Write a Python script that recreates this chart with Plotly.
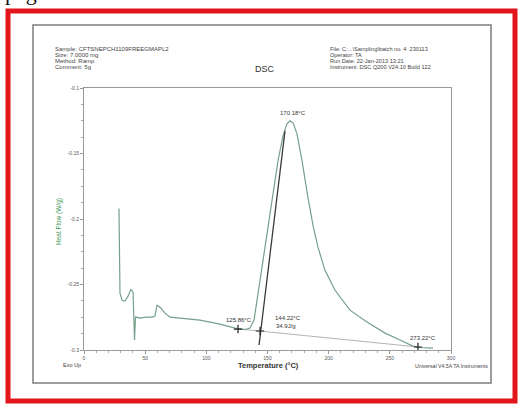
import plotly.graph_objects as go

# ---------------- data ----------------
temperature = [28.6, 29.0, 29.4, 31.1, 33.5, 36.0, 38.4, 40.1, 41.3, 42.1, 45.8, 50.7,
               55.6, 58.0, 59.7, 62.1, 66.2, 70.3, 78.5, 94.8, 111.2, 123.4, 131.6,
               135.7, 139.0, 141.4, 145.5, 149.6, 153.7, 158.6, 162.7, 165.9, 168.4,
               170.9, 174.1, 178.2, 183.1, 187.2, 191.3, 197.0, 205.2, 217.4, 231.3,
               246.1, 258.3, 268.9, 274.7, 285.3]
heat_flow = [-0.192, -0.2316, -0.2567, -0.262, -0.2627, -0.2589, -0.2536, -0.2559,
             -0.2924, -0.2749, -0.2757, -0.2749, -0.2749, -0.2741, -0.2658, -0.2673,
             -0.2719, -0.2749, -0.2757, -0.2772, -0.2802, -0.2833, -0.2844, -0.2833,
             -0.2772, -0.262, -0.2392, -0.2125, -0.1859, -0.1555, -0.1365, -0.1274,
             -0.1251, -0.1266, -0.135, -0.1555, -0.1837, -0.2049, -0.2217, -0.2392,
             -0.2544, -0.2696, -0.2787, -0.2871, -0.2924, -0.297, -0.2981, -0.2985]

tangent_t = [143.1, 164.3]
tangent_v = [-0.2962, -0.1327]

baseline_t = [131.6, 273.0]
baseline_v = [-0.2844, -0.2977]

marker_t = [125.9, 143.9, 273.0]
marker_v = [-0.2840, -0.2855, -0.2977]

peak_t = 168.4
peak_v = -0.1251

x_ticks = [0, 50, 100, 150, 200, 250, 300]
y_ticks = [-0.3, -0.25, -0.2, -0.15, -0.1]
y_tick_labels = ["-0.3", "-0.25", "-0.2", "-0.15", "-0.1"]

header_left = ["Sample: CFTSNEPCH1109FREEGMAPL2", "Size: 7.0000 mg",
               "Method: Ramp", "Comment: 5g"]
header_right = ["File: C:...\\Sampling\\batch no. 4  230113", "Operator: TA",
                "Run Date: 22-Jan-2013 13:21", "Instrument: DSC Q200 V24.10 Build 122"]

# ---------------- layout helpers ----------------
W, H = 519, 406
L, R, T, B = 84, 68, 88, 56
PW, PH = W - L - R, H - T - B


def px(x):
    return (x - L) / PW


def py(y):
    return (H - B - y) / PH


FONT = "Liberation Sans"
fig = go.Figure()

fig.add_trace(go.Scatter(x=temperature, y=heat_flow, mode="lines",
                         line=dict(color="#76a08c", width=1.2), hoverinfo="skip"))
fig.add_trace(go.Scatter(x=tangent_t, y=tangent_v, mode="lines",
                         line=dict(color="#3a3a3a", width=1.3), hoverinfo="skip"))
fig.add_trace(go.Scatter(x=baseline_t, y=baseline_v, mode="lines",
                         line=dict(color="#a0a0a0", width=0.8), hoverinfo="skip"))
fig.add_trace(go.Scatter(x=marker_t, y=marker_v, mode="markers",
                         marker=dict(symbol="cross-thin", size=6,
                                     line=dict(color="#222", width=1.2)),
                         hoverinfo="skip"))

ann = []
# data labels
ann.append(dict(x=peak_t, y=peak_v, xref="x", yref="y", text="170.18°C",
                showarrow=False, xshift=3, yshift=8, font=dict(size=6, color="#333")))
ann.append(dict(x=marker_t[0], y=marker_v[0], xref="x", yref="y", text="125.86°C",
                showarrow=False, xshift=1, yshift=9, font=dict(size=6, color="#333")))
ann.append(dict(x=marker_t[1], y=marker_v[1], xref="x", yref="y", text="144.22°C",
                showarrow=False, xshift=28, yshift=13, font=dict(size=6, color="#333")))
ann.append(dict(x=marker_t[1], y=marker_v[1], xref="x", yref="y", text="34.9J/g",
                showarrow=False, xshift=26, yshift=5, font=dict(size=6, color="#333")))
ann.append(dict(x=marker_t[2], y=marker_v[2], xref="x", yref="y", text="273.22°C",
                showarrow=False, xshift=5, yshift=9, font=dict(size=6, color="#333")))

# header text
for i, s in enumerate(header_left):
    ann.append(dict(x=px(53), y=py(49 + 6 * i), xref="paper", yref="paper", text=s,
                    xanchor="left", yanchor="middle", showarrow=False,
                    font=dict(size=6, color="#444", family=FONT)))
for i, s in enumerate(header_right):
    ann.append(dict(x=px(328), y=py(49 + 6 * i), xref="paper", yref="paper", text=s,
                    xanchor="left", yanchor="middle", showarrow=False,
                    font=dict(size=5.6, color="#444", family=FONT)))
ann.append(dict(x=px(265), y=py(62), xref="paper", yref="paper", text="DSC",
                showarrow=False, font=dict(size=9, color="#333", family=FONT)))

# bottom texts
ann.append(dict(x=px(61), y=py(370), xref="paper", yref="paper", text="Exo Up",
                showarrow=False, font=dict(size=5.5, color="#444", family=FONT)))
ann.append(dict(x=px(268), y=py(372), xref="paper", yref="paper",
                text="<b>Temperature (°C)</b>", showarrow=False,
                font=dict(size=7.5, color="#333", family=FONT)))
ann.append(dict(x=px(490), y=py(371), xref="paper", yref="paper",
                text="Universal V4.5A TA Instruments", xanchor="right", showarrow=False,
                font=dict(size=5.2, color="#444", family=FONT)))
ann.append(dict(x=px(53), y=py(222), xref="paper", yref="paper", text="Heat Flow (W/g)",
                textangle=-90, showarrow=False,
                font=dict(size=6.5, color="#3f9a5a", family=FONT)))

# cut-off page word at the very top
ann.append(dict(x=px(3), y=py(7), xref="paper", yref="paper", text="page",
                xanchor="left", yanchor="bottom", showarrow=False,
                font=dict(size=22, color="#111", family="Liberation Serif")))

shapes = [
    dict(type="rect", xref="paper", yref="paper", x0=px(8), x1=px(515), y0=py(11),
         y1=py(401), line=dict(color="#e3161b", width=5), layer="below"),
    dict(type="rect", xref="paper", yref="paper", x0=px(33), x1=px(491), y0=py(25),
         y1=py(383), line=dict(color="#7d7d7d", width=1.5), layer="below"),
]

fig.update_layout(
    width=W, height=H, margin=dict(l=L, r=R, t=T, b=B),
    paper_bgcolor="white", plot_bgcolor="white", showlegend=False,
    annotations=ann, shapes=shapes, font=dict(family=FONT),
)
fig.update_xaxes(range=[0, 300], tickvals=x_ticks, showgrid=False, zeroline=False,
                 showline=True, linecolor="#9a9a9a", linewidth=1, mirror=True,
                 ticks="outside", ticklen=3, tickcolor="#9a9a9a",
                 minor=dict(dtick=10, ticks="outside", ticklen=2, tickcolor="#aaa"),
                 tickfont=dict(size=5, color="#555"))
fig.update_yaxes(range=[-0.3, -0.1], tickvals=y_ticks, ticktext=y_tick_labels,
                 showgrid=False, zeroline=False, showline=True, linecolor="#9a9a9a",
                 linewidth=1, mirror=True, ticks="outside", ticklen=3, tickcolor="#9a9a9a",
                 minor=dict(dtick=0.0125, ticks="outside", ticklen=2, tickcolor="#aaa"),
                 tickfont=dict(size=5, color="#555"))

fig.write_html("out.html")
